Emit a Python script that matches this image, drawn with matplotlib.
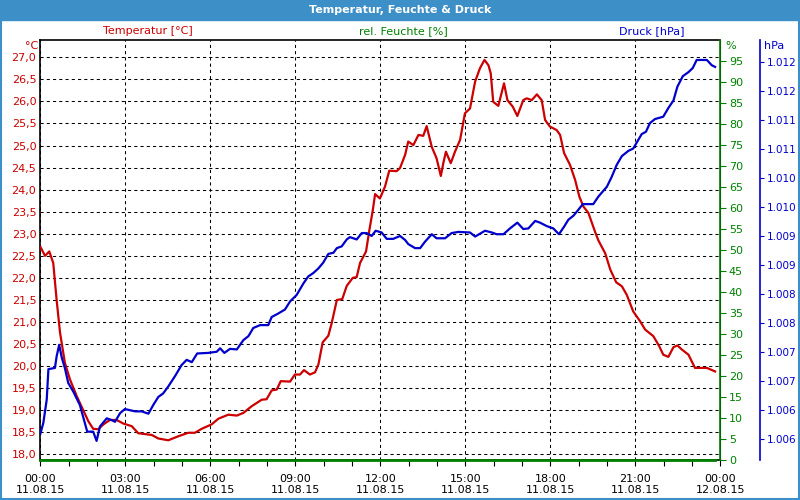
import numpy as np
import matplotlib
matplotlib.use('Agg')
from matplotlib import pyplot as plt
from matplotlib.patches import Rectangle

# time in hours since 11.08.15 00:00
temp_hours = [0.0, 0.16, 0.31, 0.45, 0.57, 0.69, 0.86, 1.04, 1.28, 1.51, 1.69, 1.86, 2.04, 2.22, 2.45,
              2.69, 2.92, 3.22, 3.45, 3.93, 4.16, 4.51, 4.86, 5.22, 5.45, 5.69, 6.04, 6.28, 6.63, 6.93,
              7.16, 7.45, 7.81, 7.98, 8.16, 8.34, 8.48, 8.81, 8.98, 9.16, 9.30, 9.51, 9.69, 9.81, 9.96,
              10.16, 10.28, 10.46, 10.65, 10.81, 11.02, 11.16, 11.28, 11.49, 11.61, 11.73, 11.81, 11.98,
              12.16, 12.31, 12.57, 12.69, 12.87, 12.98, 13.16, 13.34, 13.51, 13.63, 13.81, 13.98, 14.13,
              14.22, 14.31, 14.48, 14.63, 14.81, 14.98, 15.16, 15.34, 15.51, 15.67, 15.81, 15.89, 15.98,
              16.16, 16.36, 16.48, 16.67, 16.83, 17.04, 17.16, 17.34, 17.52, 17.69, 17.81, 17.98, 18.22,
              18.34, 18.48, 18.69, 18.87, 19.02, 19.16, 19.34, 19.57, 19.69, 19.93, 20.11, 20.32, 20.52,
              20.69, 20.92, 21.16, 21.34, 21.63, 21.84, 21.98, 22.16, 22.34, 22.48, 22.63, 22.87, 23.10,
              23.28, 23.52, 23.81]
temperature = [22.70, 22.50, 22.60, 22.34, 21.50, 20.76, 20.08, 19.70, 19.32, 19.00, 18.75, 18.58, 18.57,
               18.68, 18.78, 18.78, 18.70, 18.64, 18.48, 18.44, 18.36, 18.32, 18.41, 18.49, 18.49, 18.58,
               18.68, 18.81, 18.90, 18.88, 18.94, 19.09, 19.24, 19.25, 19.45, 19.47, 19.66, 19.65, 19.81,
               19.81, 19.91, 19.81, 19.86, 20.04, 20.54, 20.69, 20.98, 21.50, 21.52, 21.82, 22.00, 22.02,
               22.34, 22.60, 23.09, 23.54, 23.90, 23.80, 24.07, 24.43, 24.42, 24.49, 24.79, 25.09, 25.01,
               25.24, 25.22, 25.44, 24.97, 24.71, 24.31, 24.61, 24.86, 24.60, 24.86, 25.13, 25.73, 25.84,
               26.45, 26.75, 26.94, 26.82, 26.64, 25.99, 25.90, 26.41, 26.03, 25.88, 25.67, 26.03, 26.07,
               26.03, 26.16, 26.03, 25.58, 25.43, 25.35, 25.24, 24.83, 24.56, 24.22, 23.84, 23.62, 23.47,
               23.05, 22.85, 22.56, 22.19, 21.90, 21.81, 21.62, 21.24, 21.02, 20.83, 20.68, 20.45, 20.26,
               20.21, 20.43, 20.47, 20.38, 20.26, 19.96, 19.96, 19.96, 19.88]

press_hours = [0.0, 0.10, 0.22, 0.28, 0.51, 0.57, 0.66, 0.75, 0.86, 0.98, 1.16, 1.39, 1.65, 1.86, 1.98,
               2.10, 2.34, 2.51, 2.63, 2.81, 2.98, 3.16, 3.34, 3.57, 3.81, 3.98, 4.16, 4.33, 4.51, 4.75,
               4.98, 5.16, 5.34, 5.53, 5.92, 6.22, 6.34, 6.49, 6.69, 6.93, 7.16, 7.34, 7.51, 7.75, 8.04,
               8.16, 8.39, 8.63, 8.81, 9.04, 9.28, 9.45, 9.63, 9.81, 9.98, 10.16, 10.34, 10.46, 10.63,
               10.81, 10.92, 11.16, 11.34, 11.51, 11.69, 11.83, 12.04, 12.22, 12.45, 12.69, 12.87, 12.98,
               13.22, 13.40, 13.57, 13.81, 13.98, 14.28, 14.51, 14.75, 15.16, 15.34, 15.69, 15.93, 16.10,
               16.34, 16.57, 16.83, 17.04, 17.22, 17.46, 17.63, 17.87, 18.10, 18.30, 18.48, 18.63, 18.81,
               18.98, 19.14, 19.51, 19.69, 19.99, 20.16, 20.34, 20.52, 20.75, 20.92, 21.10, 21.22, 21.37,
               21.51, 21.69, 21.98, 22.16, 22.34, 22.48, 22.67, 22.87, 23.02, 23.16, 23.52, 23.69, 23.81]
pressure = [1005.59, 1005.77, 1006.17, 1006.70, 1006.72, 1006.92, 1007.12, 1006.90, 1006.72, 1006.46,
            1006.31, 1006.08, 1005.62, 1005.62, 1005.46, 1005.71, 1005.85, 1005.82, 1005.79, 1005.94,
            1006.01, 1005.99, 1005.97, 1005.97, 1005.93, 1006.08, 1006.22, 1006.28, 1006.40, 1006.58,
            1006.77, 1006.86, 1006.82, 1006.97, 1006.98, 1007.00, 1007.06, 1006.98, 1007.05, 1007.04,
            1007.20, 1007.27, 1007.41, 1007.46, 1007.46, 1007.60, 1007.66, 1007.73, 1007.87, 1007.98,
            1008.18, 1008.30, 1008.36, 1008.44, 1008.54, 1008.69, 1008.71, 1008.79, 1008.82, 1008.94,
            1008.98, 1008.94, 1009.05, 1009.05, 1009.00, 1009.09, 1009.06, 1008.95, 1008.95, 1009.00,
            1008.93, 1008.86, 1008.79, 1008.79, 1008.90, 1009.03, 1008.96, 1008.96, 1009.05, 1009.07,
            1009.06, 1008.99, 1009.09, 1009.06, 1009.03, 1009.03, 1009.13, 1009.23, 1009.12, 1009.13,
            1009.26, 1009.23, 1009.17, 1009.13, 1009.03, 1009.16, 1009.28, 1009.35, 1009.45, 1009.55,
            1009.55, 1009.68, 1009.85, 1010.02, 1010.23, 1010.38, 1010.47, 1010.51, 1010.66, 1010.76,
            1010.80, 1010.95, 1011.02, 1011.06, 1011.21, 1011.34, 1011.58, 1011.76, 1011.83, 1011.90,
            1012.04, 1012.04, 1011.95, 1011.92]

humid_hours = [0.0, 23.81]
humidity = [0, 0]

x_ticks = [0, 3, 6, 9, 12, 15, 18, 21, 24]
x_labels = ['00:00\n11.08.15', '03:00\n11.08.15', '06:00\n11.08.15', '09:00\n11.08.15',
            '12:00\n11.08.15', '15:00\n11.08.15', '18:00\n11.08.15', '21:00\n11.08.15',
            '00:00\n12.08.15']

RED = '#cc0000'
GREEN = '#008000'
BLUE = '#0000cc'
BAR = '#3d8fc8'

plt.rcParams['font.family'] = ['DejaVu Sans']
fig = plt.figure(figsize=(8, 5), dpi=100)
fig.patch.set_facecolor('white')

# title bar and frame
fig.patches.append(Rectangle((0, 0.96), 1, 0.04, transform=fig.transFigure, color=BAR, zorder=0))
fig.patches.append(Rectangle((0.001, 0.002), 0.998, 0.996, transform=fig.transFigure, fill=False,
                             edgecolor=BAR, linewidth=1.5, zorder=0))
fig.text(0.5, 0.98, 'Temperatur, Feuchte & Druck', color='white', fontsize=8, fontweight='bold',
         ha='center', va='center')

ax = fig.add_axes([0.0506, 0.08, 0.85, 0.84])
ax.plot(temp_hours, temperature, color=RED, linewidth=1.6, zorder=3)
ax.set_xlim(0, 24)
ax.set_ylim(17.873, 27.392)
ax.set_yticks(np.arange(18.0, 27.01, 0.5))
ax.yaxis.set_major_formatter(lambda v, p: f'{v:.1f}'.replace('.', ','))
ax.tick_params(axis='y', colors=RED, labelsize=8, length=0, pad=3)
ax.set_xticks(x_ticks)
ax.set_xticklabels(x_labels)
ax.set_xticks(range(25), minor=True)
ax.tick_params(axis='x', which='both', length=4, width=0.8, color='black', labelsize=8, pad=6)
ax.grid(True, color='black', linestyle=(0, (3, 3)), linewidth=0.75)
for s in ['left', 'top', 'bottom']:
    ax.spines[s].set_color('black')
    ax.spines[s].set_linewidth(1.2)

ax_h = ax.twinx()
ax_h.plot(humid_hours, humidity, color=GREEN, linewidth=2, clip_on=False)
ax_h.set_ylim(0, 100)
ax_h.set_yticks(range(0, 96, 5))
ax_h.tick_params(axis='y', colors=GREEN, labelsize=8, length=4, pad=2)
ax_h.spines['right'].set_color(GREEN)
ax_h.spines['right'].set_linewidth(1.2)

ax_p = ax.twinx()
ax_p.spines['right'].set_position(('axes', 1.0588))
ax_p.plot(press_hours, pressure, color=BLUE, linewidth=1.6)
ax_p.set_ylim(1005.13, 1012.385)
ax_p.set_yticks(np.arange(1005.5, 1012.01, 0.5))
ax_p.yaxis.set_major_formatter(lambda v, p: f'{int(np.floor(v + 0.5)):,}'.replace(',', '.'))
ax_p.tick_params(axis='y', colors=BLUE, labelsize=7.5, length=3, pad=1.5)
ax_p.spines['right'].set_color(BLUE)
ax_p.spines['right'].set_linewidth(1.2)
for a in (ax_h, ax_p):
    for s in ['left', 'top', 'bottom']:
        a.spines[s].set_visible(False)

# axis captions
fig.text(148 / 800, 1 - 31 / 500, 'Temperatur [°C]', color=RED, fontsize=8, ha='center', va='center')
fig.text(403 / 800, 1 - 31 / 500, 'rel. Feuchte [%]', color=GREEN, fontsize=8, ha='center', va='center')
fig.text(652 / 800, 1 - 31 / 500, 'Druck [hPa]', color=BLUE, fontsize=8, ha='center', va='center')
fig.text(38 / 800, 1 - 46 / 500, '°C', color=RED, fontsize=8, ha='right', va='center')
fig.text(725 / 800, 1 - 46 / 500, '%', color=GREEN, fontsize=8, ha='left', va='center')
fig.text(764 / 800, 1 - 46 / 500, 'hPa', color=BLUE, fontsize=8, ha='left', va='center')

fig.savefig('out.png', dpi=100)
